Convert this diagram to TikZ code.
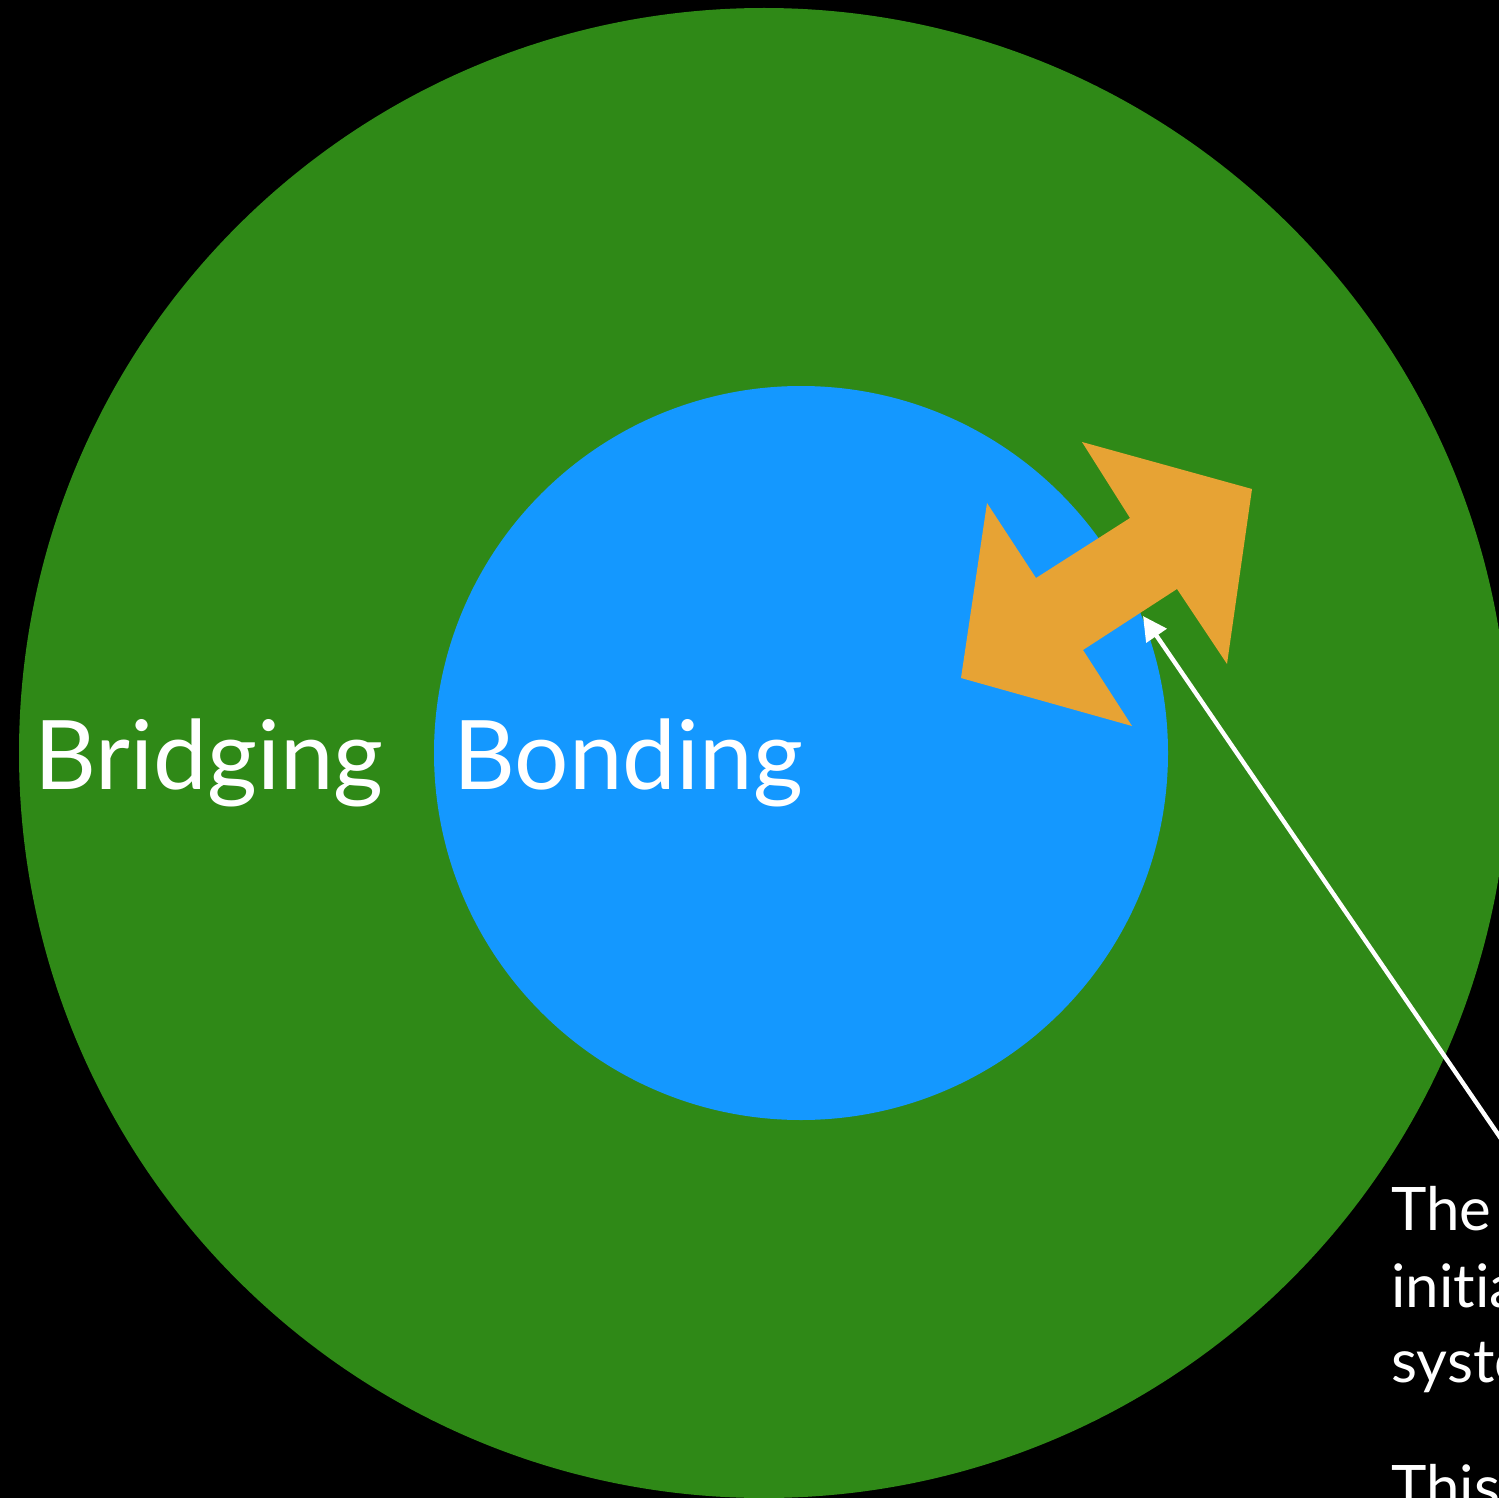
\documentclass[tikz,border=0pt]{standalone}
\usepackage{fontspec}
\setmainfont{Lato}[Ligatures=NoCommon]
\usetikzlibrary{arrows.meta}
\definecolor{ringgreen}{HTML}{2F8917}
\definecolor{coreblue}{HTML}{1498FF}
\definecolor{swaporange}{HTML}{E7A334}
\begin{document}
\begin{tikzpicture}[x=0.5pt,y=-0.5pt,
  bigword/.style={color=white,anchor=base west,inner sep=0pt,
    font=\fontsize{48}{58}\selectfont},
  noteline/.style={color=white,anchor=base west,inner sep=0pt,
    font=\fontsize{30}{38}\selectfont}]
  \useasboundingbox (0,0) rectangle (1499,1498);
  \clip (0,0) rectangle (1499,1498);
  \fill[color=black] (0,0) rectangle (1499,1498);
  \fill[color=ringgreen] (764,753) circle[radius=745];
  \fill[color=coreblue] (801,753) circle[radius=367];
  \fill[color=swaporange] (1082,442) -- (1252,489) -- (1227,664)
    -- (1177,589) -- (1083,650) -- (1132,726) -- (961,678)
    -- (987,503) -- (1036,578) -- (1130,518) -- cycle;
  \node[bigword] (bridging) at (34,789) {Bridging};
  \node[bigword] (bonding) at (453,789) {Bonding};
  \node[noteline] (note1) at (1391,1230) {The};
  \node[noteline] (note2) at (1391,1307) {initia};
  \node[noteline] (note3) at (1391,1382) {syste};
  \node[noteline] (note4) at (1391,1508) {This};
  \coordinate (swap) at (1143,616);
  \coordinate (callout) at (1530,1181);
  \draw[color=white,line width=2.2pt,-{Triangle[length=12pt,width=12pt]}]
    (callout) -- (swap);
\end{tikzpicture}
\end{document}
